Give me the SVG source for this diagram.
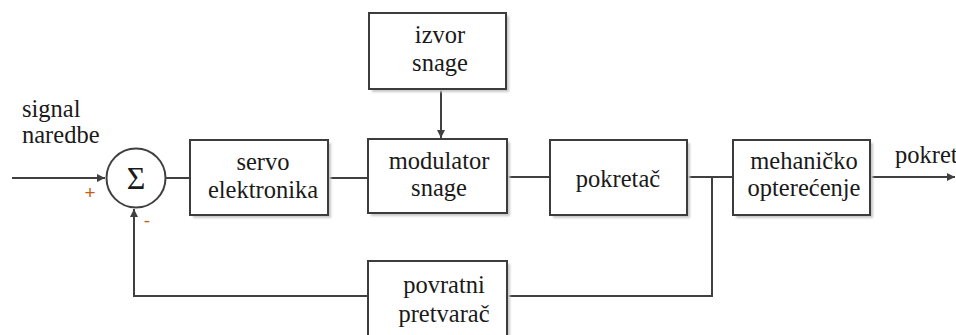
<svg xmlns="http://www.w3.org/2000/svg" width="956" height="335" viewBox="0 0 956 335" font-family="Liberation Serif, Times New Roman, serif">
<style>
.box{fill:#fff;stroke:#3c3c3c;stroke-width:2}
.sh{fill:#c8c8c8}
.ln{fill:none;stroke:#404040;stroke-width:2}
text{font-size:24.5px;fill:#1a1a1a}
.c{text-anchor:middle}
.sgn{fill:#c0601a}
</style>
<defs>
<marker id="ah" markerWidth="10" markerHeight="10" refX="8" refY="4" orient="auto" markerUnits="userSpaceOnUse">
<path d="M0,0 L8,4 L0,8 Z" fill="#404040"/>
</marker>
<filter id="blur" x="-10%" y="-10%" width="130%" height="130%"><feGaussianBlur stdDeviation="1.2"/></filter>
</defs>
<rect width="956" height="335" fill="#fff"/>
<g id="connectors">
<line class="ln" x1="12" y1="178" x2="105" y2="178" marker-end="url(#ah)"/>
<line class="ln" x1="165" y1="178" x2="190" y2="178"/>
<line class="ln" x1="328" y1="178" x2="368" y2="178"/>
<line class="ln" x1="441" y1="89" x2="441" y2="138" marker-end="url(#ah)"/>
<line class="ln" x1="507" y1="177" x2="550" y2="177"/>
<line class="ln" x1="687" y1="177" x2="733" y2="177"/>
<line class="ln" x1="870" y1="177" x2="955" y2="177" marker-end="url(#ah)"/>
<polyline class="ln" points="712,177 712,296 134,296 134,209" marker-end="url(#ah)"/>
</g>
<g id="input-label">
<text x="22" y="117">signal</text>
<text x="22" y="143">naredbe</text>
</g>
<g id="sum">
<circle cx="136" cy="178" r="29.5" fill="#fff" stroke="#404040" stroke-width="2"/>
<text x="136" y="189" class="c" style="font-size:32px">Σ</text>
<text x="90" y="199" class="c sgn" font-family="Liberation Sans, Arial, sans-serif" style="font-size:19px">+</text>
<text x="147" y="227" class="c sgn" font-family="Liberation Sans, Arial, sans-serif" style="font-size:19px">-</text>
</g>
<g id="servo">
<rect class="sh" x="193" y="143" width="138" height="75" filter="url(#blur)"/>
<rect class="box" x="190" y="140" width="138" height="75"/>
<text x="263" y="170" class="c">servo</text>
<text x="263" y="198" class="c">elektronika</text>
</g>
<g id="izvor">
<rect class="sh" x="372" y="16" width="137" height="76" filter="url(#blur)"/>
<rect class="box" x="369" y="13" width="137" height="76"/>
<text x="440" y="43" class="c">izvor</text>
<text x="440" y="71" class="c">snage</text>
</g>
<g id="modulator">
<rect class="sh" x="371" y="142" width="139" height="74" filter="url(#blur)"/>
<rect class="box" x="368" y="139" width="139" height="74"/>
<text x="439" y="169" class="c">modulator</text>
<text x="439" y="196" class="c">snage</text>
</g>
<g id="pokretac">
<rect class="sh" x="553" y="143" width="137" height="75" filter="url(#blur)"/>
<rect class="box" x="550" y="140" width="137" height="75"/>
<text x="618" y="187" class="c">pokretač</text>
</g>
<g id="mehanicko">
<rect class="sh" x="736" y="143" width="137" height="75" filter="url(#blur)"/>
<rect class="box" x="733" y="140" width="137" height="75"/>
<text x="804" y="169" class="c">mehaničko</text>
<text x="804" y="196" class="c">opterećenje</text>
</g>
<g id="output-label">
<text x="895" y="163">pokret</text>
</g>
<g id="povratni">
<rect class="sh" x="371" y="264" width="139" height="85" filter="url(#blur)"/>
<rect class="box" x="368" y="261" width="139" height="85"/>
<text x="444" y="293" class="c">povratni</text>
<text x="444" y="322" class="c">pretvarač</text>
</g>
</svg>
